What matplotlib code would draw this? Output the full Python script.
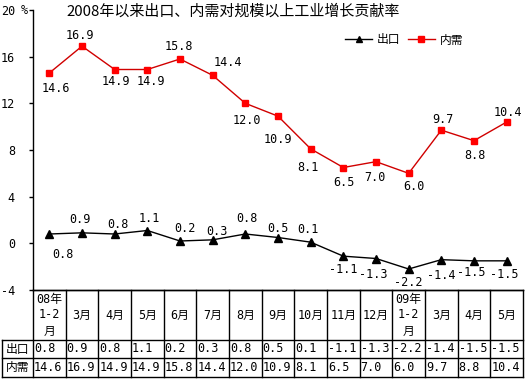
import matplotlib
matplotlib.use('Agg')
import matplotlib.pyplot as plt
from matplotlib.lines import Line2D

# --- Data
months = ['08年\n1-2\n月', '3月', '4月', '5月', '6月', '7月', '8月', '9月', '10月',
          '11月', '12月', '09年\n1-2\n月', '3月', '4月', '5月']
export = [0.8, 0.9, 0.8, 1.1, 0.2, 0.3, 0.8, 0.5, 0.1, -1.1, -1.3, -2.2, -1.4, -1.5, -1.5]
domestic = [14.6, 16.9, 14.9, 14.9, 15.8, 14.4, 12.0, 10.9, 8.1, 6.5, 7.0, 6.0, 9.7, 8.8, 10.4]
yticks = [-4, 0, 4, 8, 12, 16, 20]

# label offsets in pixels (dx, dy)
dom_off = [(7, -15), (-2, 11), (1, -12), (4, -12), (-1, 13), (15, 13), (2, -17), (0, -23),
           (-3, -19), (1, -15), (-1, -16), (5, -13), (2, 11), (1, -15), (1, 9)]
exp_off = [(14, -21), (-2, 13), (3, 9), (2, 12), (5, 13), (4, 8), (2, 15), (0, 9),
           (-3, 13), (0, -13), (-3, -16), (0, -14), (0, -16), (-3, -12), (-2, -14)]

CJK = ['Noto Sans CJK SC', 'DejaVu Sans']
MONO = ['DejaVu Sans Mono', 'Noto Sans CJK SC']
plt.rcParams['font.family'] = CJK

W, H = 527, 385
fig = plt.figure(figsize=(W / 100, H / 100), dpi=100)

# main plot area: x 33..523 px, y 10..290 px
ax = fig.add_axes([33 / W, 1 - 290 / H, 490 / W, 280 / H])
x = list(range(len(months)))
ax.plot(x, export, color='black', lw=1, marker='^', ms=5.5, mfc='black', mec='black')
ax.plot(x, domestic, color='#d00000', lw=1, marker='s', ms=5, mfc='#ff0000', mec='#ff0000')

for i, v in enumerate(domestic):
    ax.annotate(f'{v:.1f}', (i, v), xytext=dom_off[i], textcoords='offset pixels',
                ha='center', va='center', fontsize=8.5, family=MONO)
for i, v in enumerate(export):
    ax.annotate(f'{v:.1f}', (i, v), xytext=exp_off[i], textcoords='offset pixels',
                ha='center', va='center', fontsize=8.5, family=MONO)

ax.set_xlim(-0.5, len(months) - 0.5)
ax.set_ylim(-4, 20)
ax.set_yticks(yticks)
ax.set_yticklabels([str(t) for t in yticks], family=MONO, fontsize=8.5)
ax.set_xticks([])
ax.tick_params(axis='y', direction='out', length=3, width=1, pad=10)
ax.spines['top'].set_visible(False)
ax.spines['right'].set_visible(False)
ax.spines['left'].set_linewidth(1)
ax.spines['bottom'].set_linewidth(1)
ax.text(-0.87, 20, '%', fontsize=8.5, family=MONO, ha='left', va='center')

fig.text(233 / W, 1 - 11 / H, '2008年以来出口、内需对规模以上工业增长贡献率',
         ha='center', va='center', fontsize=10.8)

handles = [Line2D([0], [0], color='black', lw=1, marker='^', ms=5, label='出口'),
           Line2D([0], [0], color='#d00000', lw=1, marker='s', ms=5,
                  mfc='#ff0000', mec='#ff0000', label='内需')]
fig.legend(handles=handles, loc='center', bbox_to_anchor=(404 / W, 1 - 40 / H), ncol=2,
           frameon=False, fontsize=8.5, handlelength=2.3, handletextpad=0.4,
           columnspacing=0.6, borderpad=0)

# --- data table below: x 2..523 px, y 290..377 px
tb = fig.add_axes([2 / W, 1 - 377 / H, 521 / W, 87 / H])
lab_w = 31 / 32.67
tb.set_xlim(-0.5 - lab_w, len(months) - 0.5)
tb.set_ylim(87, 0)
tb.axis('off')
row_y = [0, 50, 68, 87]
lk = dict(color='black', lw=1, clip_on=False)
for i in range(len(months) + 1):
    tb.plot([i - 0.5, i - 0.5], [0, 87], **lk)
tb.plot([-0.5 - lab_w] * 2, [50, 87], **lk)
tb.plot([-0.5, len(months) - 0.5], [0, 0], **lk)
for yy in row_y[1:]:
    tb.plot([-0.5 - lab_w, len(months) - 0.5], [yy, yy], **lk)

for i, m in enumerate(months):
    tb.text(i, 25, m, ha='center', va='center', fontsize=8.5, family=MONO, linespacing=1.3)
    tb.text(i - 0.47, 59, f'{export[i]:.1f}', ha='left', va='center', fontsize=8.5, family=MONO)
    tb.text(i - 0.47, 77.5, f'{domestic[i]:.1f}', ha='left', va='center', fontsize=8.5, family=MONO)
tb.text(-0.5 - lab_w / 2, 59, '出口', ha='center', va='center', fontsize=8.5)
tb.text(-0.5 - lab_w / 2, 77.5, '内需', ha='center', va='center', fontsize=8.5)

fig.savefig('out.png', dpi=100)
